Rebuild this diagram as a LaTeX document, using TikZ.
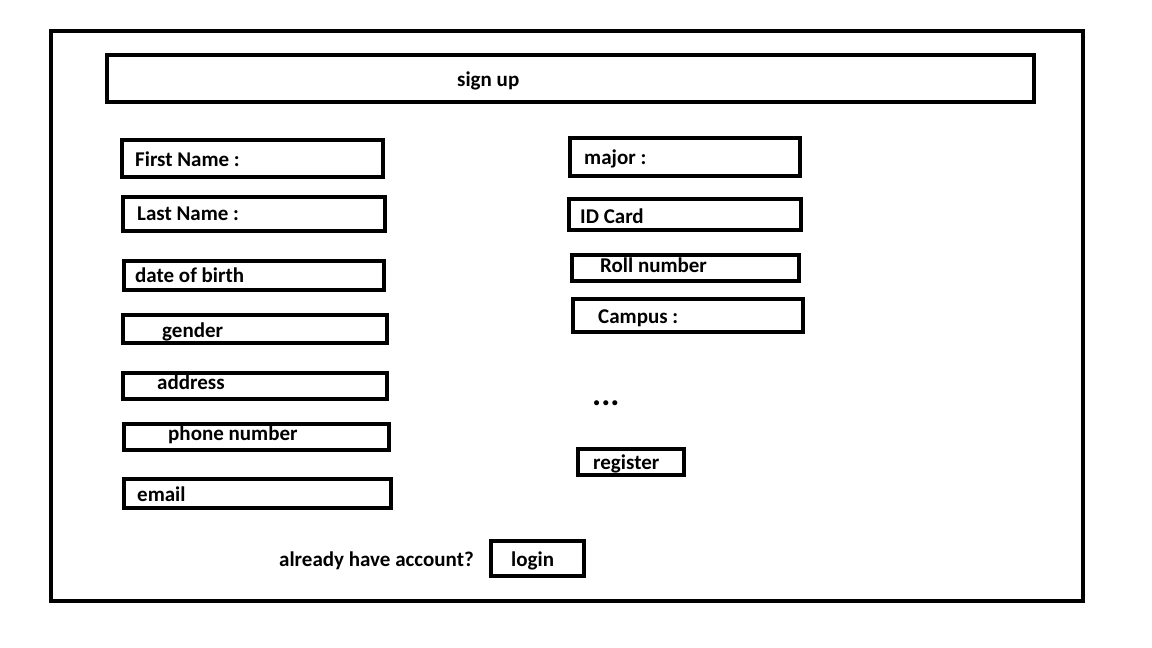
\documentclass[tikz,border=0pt]{standalone}
\usepackage{fontspec}
\setmainfont{Carlito}
\begin{document}
\begin{tikzpicture}[x=1pt,y=-1pt,
  frame/.style={draw=black,line width=4.2pt},
  lbl/.style={anchor=base west,inner sep=0pt,font=\bfseries\fontsize{21}{24}\selectfont}]
\useasboundingbox (0,0) rectangle (1152,648);
\fill[white] (0,0) rectangle (1152,648);
% outer frame
\draw[frame] (51,31) rectangle (1083,601);
% title
\draw[frame] (107,55) rectangle (1034,102);
\node[lbl] (title) at (457,86) {sign up};
% left column
\draw[frame] (122,140) rectangle (383,177);
\node[lbl] (fn) at (135,166) {First Name :};
\draw[frame] (123,197) rectangle (385,231);
\node[lbl] (ln) at (137,220) {Last Name :};
\draw[frame] (124,261) rectangle (384,290);
\node[lbl] (dob) at (135,282) {date of birth};
\draw[frame] (123,315) rectangle (387,343);
\node[lbl] (gen) at (162,337) {gender};
\draw[frame] (123,373) rectangle (387,399);
\node[lbl] (addr) at (157,389) {address};
\draw[frame] (124,424) rectangle (389,450);
\node[lbl] (ph) at (168,440) {phone number};
\draw[frame] (124,479) rectangle (391,508);
\node[lbl] (em) at (137,501) {email};
% right column
\draw[frame] (570,138) rectangle (800,176);
\node[lbl] (maj) at (584,164) {major :};
\draw[frame] (569,199) rectangle (801,230);
\node[lbl] (idc) at (580,223) {ID Card};
\draw[frame] (572,255) rectangle (799,281);
\node[lbl] (roll) at (600,272) {Roll number};
\draw[frame] (573,299) rectangle (803,332);
\node[lbl] (camp) at (598,323) {Campus :};
\node[lbl] (dots) at (592,405) {\fontsize{34}{36}\selectfont ...};
\draw[frame] (578,449) rectangle (684,475);
\node[lbl] (reg) at (593,469) {register};
% bottom
\node[lbl] (already) at (279,566) {already have account?};
\draw[frame] (491,541) rectangle (584,576);
\node[lbl] (login) at (511,566) {login};
\end{tikzpicture}
\end{document}
